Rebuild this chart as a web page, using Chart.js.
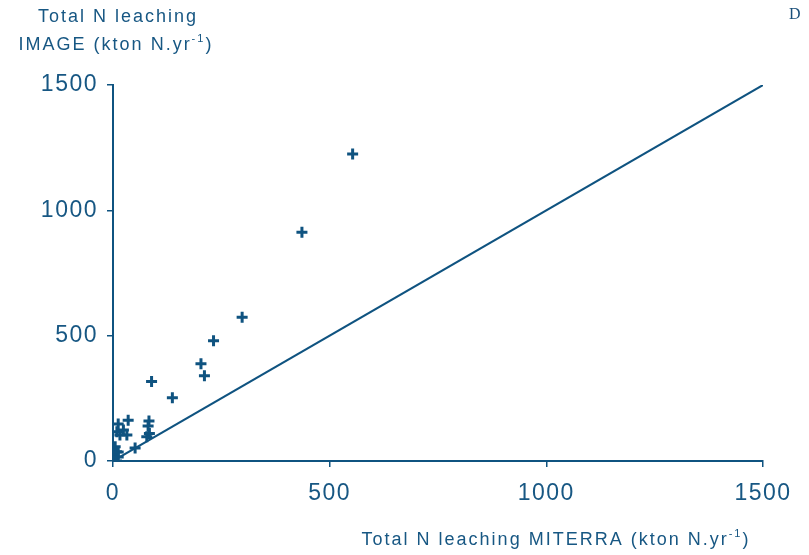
<!DOCTYPE html>
<html>
<head>
<meta charset="utf-8">
<script src="https://cdn.jsdelivr.net/npm/chart.js@4.4.1/dist/chart.umd.min.js"></script>
<style>
  html, body { margin: 0; padding: 0; background: #fff; }
  #wrap { width: 809px; height: 555px; position: relative; }
</style>
</head>
<body>
<div id="wrap"><canvas id="c" width="809" height="555"></canvas></div>
<script>
/* N leaching: IMAGE vs MITERRA scatter with 1:1 line (panel D). */
const miterra = [553, 436, 298, 232, 203, 211, 89, 137, 35, 83, 12, 81, 24, 32, 84, 78, 51, 5, 8, 2, 1, 9, 16, 12, 12, 8];
const image = [1225, 913, 573, 480, 388, 340, 317, 252, 163, 160, 148, 140, 124, 104, 110, 97, 52, 57, 37, 17, 4, 117, 104, 36, 16, 0];
const lineX = [0, 1500];
const lineY = [0, 1500];
const ticks = [0, 500, 1000, 1500];

const BLUE = "#0f5380", TXT = "#175783";
const pts = miterra.map((x, i) => ({ x, y: image[i] }));
const diag = lineX.map((x, i) => ({ x, y: lineY[i] }));

// draw text with a raised "-1" exponent, centred on cx
function supText(ctx, parts, cx, cy, size) {
  const big = `${size}px "Liberation Sans", Arial, sans-serif`, small = `${Math.round(size * 0.6)}px "Liberation Sans", Arial, sans-serif`;
  const w = parts.map((p) => { ctx.font = p.sup ? small : big; return ctx.measureText(p.t).width; });
  let x = cx - w.reduce((a, b) => a + b, 0) / 2;
  parts.forEach((p, i) => {
    ctx.font = p.sup ? small : big;
    ctx.fillText(p.t, x, p.sup ? cy - size * 0.35 : cy);
    x += w[i];
  });
}

const labels = {
  id: "labels",
  beforeDraw(chart) { chart.ctx.letterSpacing = "1.5px"; },
  afterDraw(chart) {
    const ctx = chart.ctx;
    ctx.save();
    ctx.fillStyle = TXT; ctx.textBaseline = "middle"; ctx.textAlign = "left";
    ctx.letterSpacing = "2px";
    supText(ctx, [{ t: "Total N leaching" }], 118, 17, 18);
    supText(ctx, [{ t: "IMAGE (kton N.yr" }, { t: "-1", sup: 1 }, { t: ")" }], 116, 45, 18);
    supText(ctx, [{ t: "Total N leaching MITERRA (kton N.yr" }, { t: "-1", sup: 1 }, { t: ")" }], 556, 540, 18);
    ctx.letterSpacing = "0px";
    ctx.fillStyle = "#1a4f7a";
    ctx.font = '16px "Liberation Serif", "Times New Roman", serif';
    ctx.fillText("D", 789, 15);
    ctx.restore();
  }
};

const axisCommon = {
  min: 0, max: 1500,
  afterBuildTicks: (s) => { s.ticks = ticks.map((v) => ({ value: v })); },
  border: { display: true, color: BLUE, width: 2 },
  grid: { drawOnChartArea: false, drawTicks: true, tickLength: 6, color: BLUE, lineWidth: 1.5 },
};
const tickFont = { family: '"Liberation Sans", Arial, sans-serif', size: 23 };

new Chart(document.getElementById("c"), {
  data: {
    datasets: [
      { type: "line", data: diag, borderColor: BLUE, borderWidth: 2, pointRadius: 0, fill: false, order: 2 },
      { type: "scatter", data: pts, pointStyle: "cross", pointRadius: 5.5, borderColor: BLUE, backgroundColor: BLUE, pointBorderWidth: 3, order: 1 },
    ],
  },
  options: {
    responsive: false, animation: false, devicePixelRatio: 1,
    layout: { padding: { left: 0, top: 85, right: 46, bottom: 0 } },
    plugins: { legend: { display: false }, tooltip: { enabled: false } },
    scales: {
      x: { ...axisCommon, type: "linear", position: "bottom",
        ticks: { color: TXT, padding: 13, maxRotation: 0, font: tickFont, callback: (v) => String(v) },
        afterFit: (s) => { s.height = 94; } },
      y: { ...axisCommon, type: "linear", position: "left",
        ticks: { color: TXT, padding: 9, font: tickFont, callback: (v) => String(v) },
        afterFit: (s) => { s.width = 113; } },
    },
  },
  plugins: [labels],
});
</script>
</body>
</html>
